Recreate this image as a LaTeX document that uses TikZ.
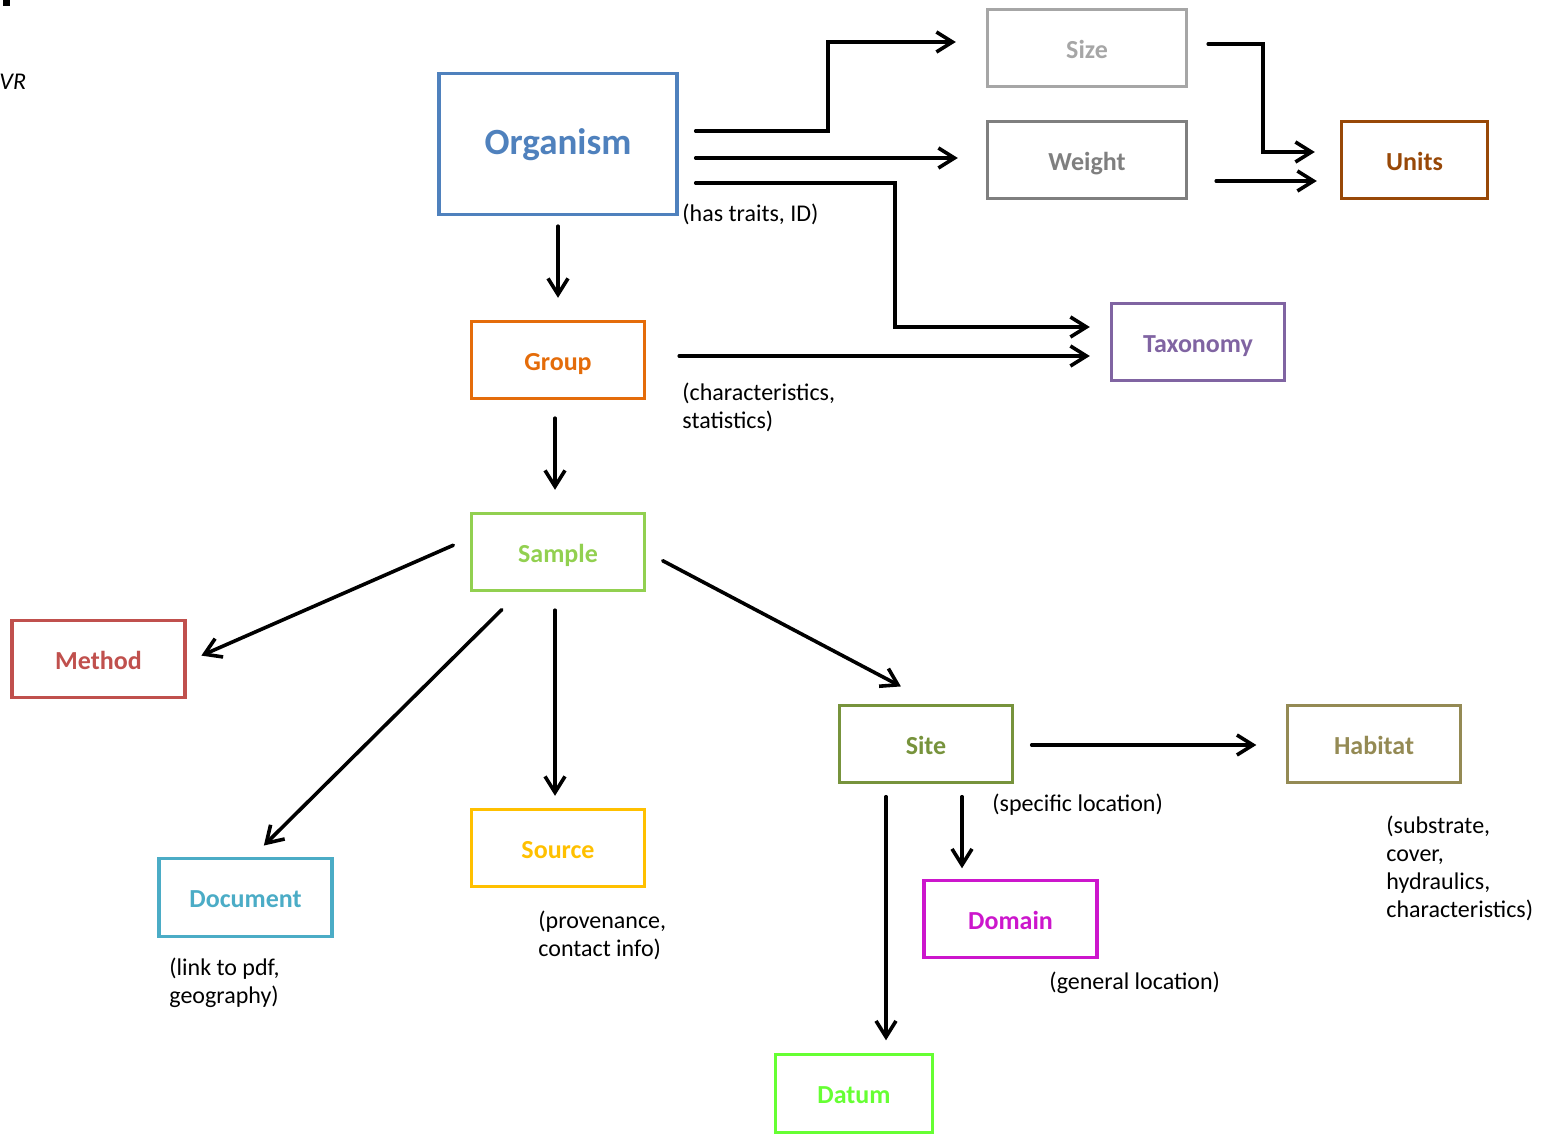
\documentclass[tikz,border=0pt]{standalone}
\usepackage{fontspec}
\setmainfont{Carlito}
\usetikzlibrary{arrows.meta}

\definecolor{orgblue}{HTML}{4F81BD}
\definecolor{sizegray}{HTML}{A6A6A6}
\definecolor{weightgray}{HTML}{7F7F7F}
\definecolor{unitsbrown}{HTML}{984807}
\definecolor{taxpurple}{HTML}{8064A2}
\definecolor{grouporange}{HTML}{E46C0A}
\definecolor{samplegreen}{HTML}{92D050}
\definecolor{methodred}{HTML}{C0504D}
\definecolor{docaqua}{HTML}{4BACC6}
\definecolor{sourcegold}{HTML}{FFC000}
\definecolor{siteolive}{HTML}{77933C}
\definecolor{habitatkhaki}{HTML}{948A54}
\definecolor{domainmagenta}{HTML}{CC16CC}
\definecolor{datumgreen}{HTML}{66FF33}

\begin{document}
\begin{tikzpicture}[x=0.5pt,y=-0.5pt,line cap=round]

    % let's define some key sizes
    \def\boxw{86.5pt}
    \def\boxh{38.5pt}

    % Styles
    \tikzstyle{box}=[draw, line width=1.7pt, inner sep=0pt, minimum width=\boxw,
        minimum height=\boxh, text height=10.4pt, text depth=0pt,
        font=\fontsize{13}{15}\selectfont\bfseries]
    \tikzstyle{note}=[anchor=west, inner sep=0pt, align=left,
        font=\fontsize{12}{14}\selectfont]
    \tikzstyle{arr}=[-{Straight Barb[length=8pt,width=10pt]}, line width=1.8pt]

    \useasboundingbox (0,0) rectangle (1552,1134);

    % cut-off bits at the top left
    \fill (3,0) rectangle (10,6);
    \node[note, font=\fontsize{12}{14}\selectfont\itshape] (vrtext) at (-1,82) {VR};

    % organism and its traits
    \node[box, draw=orgblue, text=orgblue, minimum width=119pt, minimum height=70.5pt,
        text height=11pt, font=\fontsize{18.5}{20}\selectfont\bfseries]
        (organism) at (558,144) {Organism};
    \node[box, draw=sizegray, text=sizegray, minimum width=99.5pt] (size) at (1087,48) {Size};
    \node[box, draw=weightgray, text=weightgray, minimum width=99.5pt] (weight) at (1087,160) {Weight};
    \node[box, draw=unitsbrown, text=unitsbrown, minimum width=73pt] (units) at (1414.5,160) {Units};
    \node[box, draw=taxpurple, text=taxpurple] (taxonomy) at (1198,342) {Taxonomy};

    % group and sample
    \node[box, draw=grouporange, text=grouporange] (group) at (558,360) {Group};
    \node[box, draw=samplegreen, text=samplegreen] (sample) at (558,552) {Sample};

    % what a sample points to
    \node[box, draw=methodred, text=methodred] (method) at (98.5,659) {Method};
    \node[box, draw=docaqua, text=docaqua, minimum height=39pt] (document) at (245.5,897.5) {Document};
    \node[box, draw=sourcegold, text=sourcegold] (source) at (558,848) {Source};
    \node[box, draw=siteolive, text=siteolive] (site) at (926,744) {Site};

    % what a site points to
    \node[box, draw=habitatkhaki, text=habitatkhaki] (habitat) at (1374,744) {Habitat};
    \node[box, draw=domainmagenta, text=domainmagenta] (domain) at (1010.5,919) {Domain};
    \node[box, draw=datumgreen, text=datumgreen, minimum width=78.5pt, minimum height=39pt]
        (datum) at (854,1093.5) {Datum};

    % notes
    \node[note] (traitsnote) at (682,214) {(has traits, ID)};
    \node[note] (groupnote) at (682,407) {(characteristics,\\statistics)};
    \node[note] (sitenote) at (992,805) {(specific location)};
    \node[note] (habitatnote) at (1386,868) {(substrate,\\cover,\\hydraulics,\\characteristics)};
    \node[note] (sourcenote) at (538,935) {(provenance,\\contact info)};
    \node[note] (documentnote) at (169,983) {(link to pdf,\\geography)};
    \node[note] (domainnote) at (1049,983) {(general location)};

    % organism to size
    \draw[arr, shorten <=8.5pt, shorten >=15pt] ([yshift=6.5pt]organism.east)
        -- ++(149,0) |- ([yshift=3pt]size.west);
    % organism to weight
    \draw[arr, shorten <=8.5pt, shorten >=14pt] ([yshift=-7pt]organism.east)
        -- ([yshift=1pt]weight.west);
    % organism to taxonomy
    \draw[arr, shorten <=8.5pt, shorten >=10pt] ([yshift=-19.5pt]organism.east)
        -- ++(216,0) |- ([yshift=7.5pt]taxonomy.west);
    % organism to group
    \draw[arr, shorten <=5pt, shorten >=11pt] (organism.south) -- (group.north);

    % size and weight to units
    \draw[arr, shorten <=10pt, shorten >=12.5pt] ([yshift=2pt]size.east)
        -- ++(75,0) |- ([yshift=4pt]units.west);
    \draw[arr, shorten <=14pt, shorten >=11.5pt] ([yshift=-10.5pt]weight.east)
        -- ([yshift=-10.5pt]units.west);

    % group to taxonomy
    \draw[arr, shorten <=16.5pt, shorten >=10pt] ([yshift=2pt]group.east)
        -- ([yshift=-7pt]taxonomy.west);
    % group to sample
    \draw[arr, shorten <=9pt, shorten >=11pt] ([xshift=-1.5pt]group.south)
        -- ([xshift=-1.5pt]sample.north);

    % sample to method, document, source and site
    \draw[arr, shorten <=9pt, shorten >=8pt] ([yshift=7pt]sample.west)
        -- ([yshift=-1.5pt]method.east);
    \draw[arr, shorten <=12.4pt, shorten >=8pt] ([xshift=-19.3pt]sample.south)
        -- ([xshift=3.5pt]document.north);
    \draw[arr, shorten <=9pt, shorten >=6pt] ([xshift=-1.5pt]sample.south)
        -- ([xshift=-1.5pt]source.north);
    \draw[arr, shorten <=9.35pt, shorten >=18.6pt] (sample.east)
        -- ([xshift=3.9pt]site.north);

    % site to habitat, domain and datum
    \draw[arr, shorten <=8.75pt, shorten >=14.75pt] ([yshift=-0.5pt]site.east)
        -- ([yshift=-0.5pt]habitat.west);
    \draw[arr, shorten <=6.25pt, shorten >=5.25pt] ([xshift=18pt]site.south)
        -- ([xshift=-24.25pt]domain.north);
    \draw[arr, shorten <=6.25pt, shorten >=6.25pt] ([xshift=-20pt]site.south)
        -- ([xshift=16pt]datum.north);

\end{tikzpicture}
\end{document}
